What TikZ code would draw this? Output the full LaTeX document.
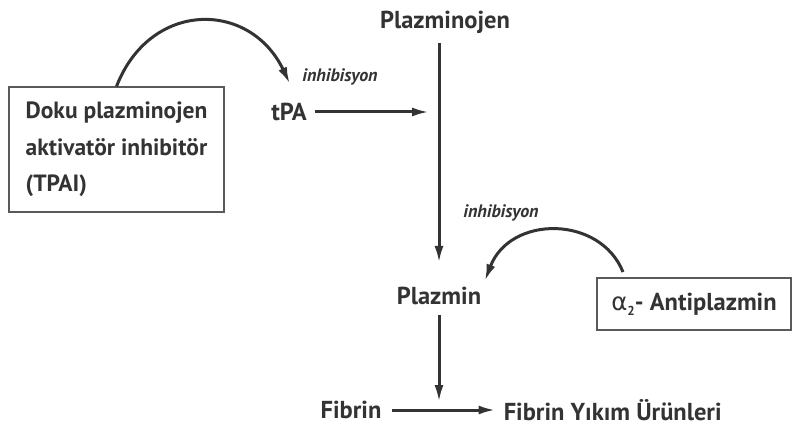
\documentclass[tikz,border=0pt]{standalone}
\usepackage{fontspec}
\setmainfont{PT Sans}
\newfontfamily\grk{DejaVu Sans}
\usetikzlibrary{positioning, arrows.meta}
\definecolor{ink}{HTML}{333333}
\definecolor{frame}{HTML}{5a5a5a}

\begin{document}
\begin{tikzpicture}[x=1pt, y=-1pt,
    lbl/.style={font=\fontsize{24.5}{36}\selectfont\bfseries, text=ink, inner sep=2pt},
    inh/.style={font=\fontsize{18}{20}\selectfont\bfseries\itshape, text=ink, inner sep=1pt},
    box/.style={draw=frame, line width=1.1pt, minimum width=#1, inner sep=0pt},
    arr/.style={-{Latex[length=17pt, width=9pt]}, line width=3pt, draw=ink},
]
\useasboundingbox[fill=white] (0,0) rectangle (792,435);
% labels
\node[lbl] (pgn) at (445,22) {Plazminojen};
\node[lbl] (tpa) at (289,112) {tPA};
\node[lbl] (pln) at (439,296) {Plazmin};
\node[lbl] (fib) at (351,410) {Fibrin};
\node[lbl, right=118pt of fib] (fyu) {Fibrin Yıkım Ürünleri};
\node[inh] (inh1) at (340,77) {inhibisyon};
\node[inh] (inh2) at (501,213) {inhibisyon};
% boxes
\node[box=215pt, minimum height=125pt, lbl, font=\fontsize{23.5}{36.5}\selectfont\bfseries, align=left] (tpai) at (116.5,149.5)
  {Doku plazminojen\\aktivatör inhibitör\\(TPAI)};
\node[box=194pt, minimum height=52pt, lbl] (apl) at (694,304)
  {{\grk\mdseries α}\raisebox{-5pt}{\fontsize{13}{13}\selectfont 2}- Antiplazmin};
\coordinate (a2src) at (623,272);
% connectors
\draw[arr] (tpai.north) .. controls (150,0) and (250,0) .. (290,84);
\draw[arr, shorten <=6pt, shorten >=10pt] (tpa.east) -- (tpa.east -| pln.north);
\draw[arr, shorten <=8pt, shorten >=22pt] (pgn.south -| pln.north) -- (pln.north);
\draw[arr, shorten >=4pt] (a2src) .. controls (600,215) and (510,215) .. (pln.north east);
\draw[arr, shorten <=8pt, shorten >=8pt] (pln.south) -- (pln.south |- fib.center);
\draw[arr, shorten <=8pt, shorten >=6pt] (fib.east) -- (fyu.west);
\end{tikzpicture}
\end{document}
